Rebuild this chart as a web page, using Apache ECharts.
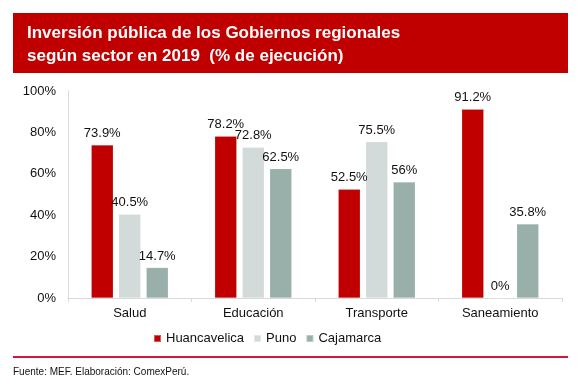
<!DOCTYPE html>
<html><head><meta charset="utf-8">
<script src="https://cdn.jsdelivr.net/npm/echarts@6/dist/echarts.min.js"></script>
<style>html,body{margin:0;padding:0;background:#fff}#c{width:583px;height:389px}</style>
</head><body><div id="c"></div>
<script>
const categories = ['Salud', 'Educación', 'Transporte', 'Saneamiento'];
const huancavelica = [73.9, 78.2, 52.5, 91.2];
const puno = [40.5, 72.8, 75.5, 0];
const cajamarca = [14.7, 62.5, 56, 35.8];
const yTicks = [0, 20, 40, 60, 80, 100];

const FONT = '"Liberation Sans", Arial, sans-serif';
const chart = echarts.init(document.getElementById('c'));
const label = {show: true, position: 'top', distance: 5, color: '#111', fontSize: 13, fontFamily: FONT, formatter: p => p.value + '%'};
function mk(name, data, color) {
  return {name, type: 'bar', data, barWidth: 22, barGap: '25%', label,
    itemStyle: {color, borderColor: 'rgba(255,255,255,0.35)', borderWidth: 0.5}};
}
chart.setOption({
  animation: false,
  textStyle: {fontFamily: FONT},
  grid: {left: 68, right: 21, top: 91, bottom: 91},
  xAxis: {type: 'category', data: categories,
    axisLine: {lineStyle: {color: '#d9d9d9'}},
    axisTick: {show: true, length: 4, lineStyle: {color: '#d9d9d9'}},
    axisLabel: {color: '#111', fontSize: 13, fontFamily: FONT, margin: 9}},
  yAxis: {type: 'value', min: yTicks[0], max: yTicks[yTicks.length-1], interval: 20,
    axisLine: {show: true, lineStyle: {color: '#d9d9d9'}},
    axisTick: {show: false}, splitLine: {show: false},
    axisLabel: {color: '#111', fontSize: 13, fontFamily: FONT, formatter: '{value}%', margin: 12}},
  legend: {left: 148, top: 327, itemWidth: 7, itemHeight: 7, itemGap: 9, icon: 'rect',
    textStyle: {color: '#111', fontSize: 13, fontFamily: FONT}},
  series: [mk('Huancavelica', huancavelica, '#C00000'), mk('Puno', puno, '#D3DBDA'), mk('Cajamarca', cajamarca, '#98AFAA')],
  graphic: [
    {type: 'rect', left: 13, top: 13, shape: {width: 555, height: 60}, style: {fill: '#C00000'}},
    {type: 'text', left: 27, top: 22, style: {text: 'Inversión pública de los Gobiernos regionales\nsegún sector en 2019  (% de ejecución)', fill: '#fff', font: 'bold 17px ' + FONT, lineHeight: 23}},
    {type: 'rect', left: 13, top: 356, shape: {width: 555, height: 2}, style: {fill: '#D9143A'}},
    {type: 'text', left: 13, top: 367, style: {text: 'Fuente: MEF. Elaboración: ComexPerú.', fill: '#111', font: '10px ' + FONT}}
  ]
});
</script></body></html>
